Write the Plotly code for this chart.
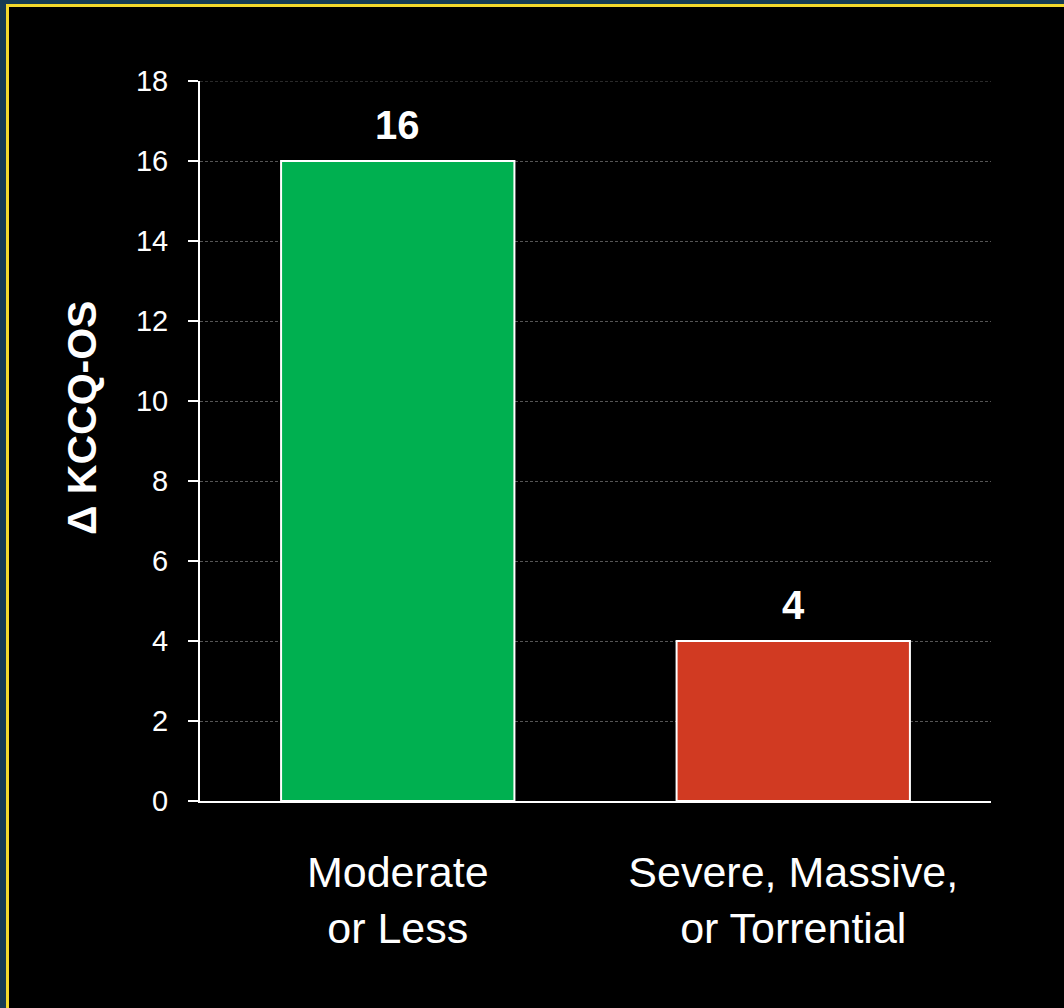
import plotly.graph_objects as go

categories = ["Moderate<br>or Less", "Severe, Massive,<br>or Torrential"]
values = [16, 4]
value_labels = ["16", "4"]
colors = ["#00B050", "#D13A22"]
y_ticks = [0, 2, 4, 6, 8, 10, 12, 14, 16, 18]
y_max = 18
y_title = "Δ KCCQ-OS"

W, H = 1064, 1008
L, R, T, B = 200, 73, 81, 207
pw, ph = W - L - R, H - T - B

def px(x):
    return (x - L) / pw

def py(y):
    return (H - B - y) / ph

fig = go.Figure()
fig.add_trace(go.Bar(
    x=categories, y=values,
    marker=dict(color=colors, line=dict(color="white", width=2)),
    width=0.59,
))

for c, v, t in zip(categories, values, value_labels):
    fig.add_annotation(
        x=c, y=v, text=t, showarrow=False, yanchor="bottom", yshift=12,
        font=dict(family="Liberation Sans, Arial", size=40, color="white", weight="bold"),
    )

fig.add_annotation(
    xref="paper", yref="paper", x=px(82), y=py(418), text=y_title, textangle=-90,
    showarrow=False, xanchor="center", yanchor="middle",
    font=dict(family="Liberation Sans, Arial", size=41, color="white", weight="bold"),
)

shapes = [
    # navy strips top and left
    dict(type="rect", xref="paper", yref="paper", x0=px(0), x1=px(W + 5), y0=py(0), y1=py(4),
         fillcolor="#163C54", line=dict(width=0), layer="below"),
    dict(type="rect", xref="paper", yref="paper", x0=px(0), x1=px(6), y0=py(0), y1=py(H + 5),
         fillcolor="#163C54", line=dict(width=0), layer="below"),
    # yellow strips
    dict(type="rect", xref="paper", yref="paper", x0=px(6), x1=px(W + 5), y0=py(4), y1=py(7),
         fillcolor="#F2D92C", line=dict(width=0), layer="below"),
    dict(type="rect", xref="paper", yref="paper", x0=px(6), x1=px(9), y0=py(4), y1=py(H + 5),
         fillcolor="#F2D92C", line=dict(width=0), layer="below"),
    # top gridline at the axis maximum
    dict(type="line", xref="paper", yref="y", x0=0, x1=1, y0=y_max, y1=y_max,
         line=dict(color="#555555", width=1, dash="3px,2px"), layer="below"),
]

fig.update_layout(
    width=W, height=H,
    margin=dict(l=L, r=R, t=T, b=B, pad=0),
    paper_bgcolor="black",
    plot_bgcolor="black",
    shapes=shapes,
    showlegend=False,
    font=dict(family="Liberation Sans, Arial", color="white"),
    xaxis=dict(
        showgrid=False, showline=True, linecolor="white", linewidth=2,
        ticks="", tickfont=dict(size=43, color="white"),
        ticklabelstandoff=32,
    ),
    yaxis=dict(
        range=[0, y_max], tickvals=y_ticks,
        showgrid=True, gridcolor="#555555", griddash="3px,2px", gridwidth=1,
        showline=True, linecolor="white", linewidth=2,
        ticks="outside", ticklen=10, tickwidth=2, tickcolor="white",
        tickfont=dict(size=29, color="white"),
        ticklabelstandoff=14,
        zeroline=False,
    ),
)

fig.write_html("out.html")
